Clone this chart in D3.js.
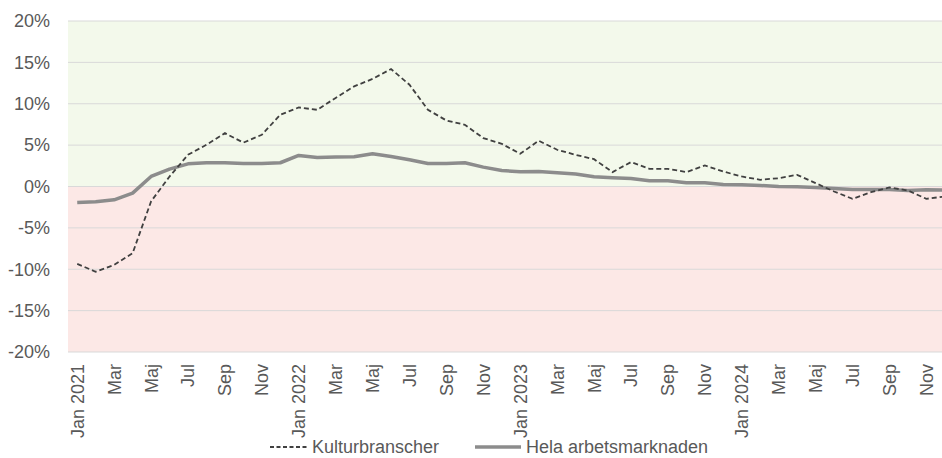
<!DOCTYPE html>
<html lang="sv">
<head>
  <meta charset="UTF-8">
  <title>Kulturbranscher vs hela arbetsmarknaden</title>
  <script src="https://d3js.org/d3.v7.min.js"></script>
  <style>
    body { margin: 0; background: white; }
    text {
      fill: #595959;
      font-size: 18px;
      font-family: 'Liberation Sans', 'DejaVu Sans', sans-serif;
    }
  </style>
</head>
<body>
  <svg width="942" height="458"></svg>

  <script>
    // The data
    const monthNames = ["Jan", "Feb", "Mar", "Apr", "Maj", "Jun", "Jul", "Aug", "Sep", "Okt", "Nov", "Dec"];
    const years = [2021, 2022, 2023, 2024];

    const kultur = [
      -9.35, -10.3, -9.47, -8.06, -1.8, 1.2, 3.83, 5.04, 6.45, 5.3, 6.25, 8.67,
      9.55, 9.27, 10.7, 12.1, 13.0, 14.2, 12.3, 9.27, 7.98, 7.46, 5.85, 5.16,
      3.95, 5.53, 4.44, 3.83, 3.3, 1.74, 2.95, 2.14, 2.14, 1.74, 2.54, 1.81,
      1.21, 0.81, 1.0, 1.41, 0.41, -0.6, -1.49, -0.68, -0.12, -0.48, -1.49, -1.2
    ];
    const hela = [
      -1.93, -1.85, -1.61, -0.8, 1.21, 2.1, 2.74, 2.87, 2.87, 2.78, 2.78, 2.87,
      3.75, 3.51, 3.55, 3.6, 3.95, 3.63, 3.23, 2.78, 2.78, 2.87, 2.34, 1.94,
      1.78, 1.81, 1.66, 1.5, 1.17, 1.05, 0.97, 0.69, 0.69, 0.45, 0.45, 0.24,
      0.2, 0.12, 0.0, -0.04, -0.12, -0.24, -0.36, -0.36, -0.36, -0.48, -0.4, -0.44
    ];
    const yTicks = [-20, -15, -10, -5, 0, 5, 10, 15, 20];

    const months = [];
    years.forEach(y => monthNames.forEach((m, i) => months.push({ key: y + "-" + i, m: i, y: y })));

    const svg = d3.select("svg");
    const margin = { top: 21, left: 68 };
    const width = 886;   // plot runs slightly past the window edge
    const height = 331;
    const g = svg.append("g").attr("transform", "translate(" + margin.left + "," + margin.top + ")");

    // Scales
    const x = d3.scaleBand()
      .domain(months.map(d => d.key))
      .range([0, width]);

    const y = d3.scaleLinear()
      .domain([-20, 20])
      .range([height, 0]);

    const cx = k => x(k) + x.bandwidth() / 2;

    // Background zones
    g.append("rect")
      .attr("x", 0).attr("y", y(20))
      .attr("width", width).attr("height", y(0) - y(20))
      .attr("fill", "#f3f9eb");
    g.append("rect")
      .attr("x", 0).attr("y", y(0))
      .attr("width", width).attr("height", y(-20) - y(0))
      .attr("fill", "#fce8e6");

    // Gridlines
    g.selectAll(".grid")
      .data(yTicks)
      .enter().append("line")
      .attr("x1", 0).attr("x2", width)
      .attr("y1", d => y(d)).attr("y2", d => y(d))
      .attr("stroke", "#d9d9d9")
      .attr("stroke-width", 1);

    // Y-axis labels
    g.selectAll(".ylab")
      .data(yTicks)
      .enter().append("text")
      .attr("x", -18)
      .attr("y", d => y(d))
      .attr("dy", "0.35em")
      .attr("text-anchor", "end")
      .text(d => d + "%");

    // X-axis labels, every other month
    g.selectAll(".xlab")
      .data(months.filter(d => d.m % 2 === 0))
      .enter().append("text")
      .attr("text-anchor", "end")
      .attr("transform", d => "translate(" + (cx(d.key) + 6.5) + "," + (height + 12) + ") rotate(-90)")
      .text(d => d.m === 0 ? monthNames[d.m] + " " + d.y : monthNames[d.m]);

    // Lines
    const line = d3.line()
      .x((d, i) => cx(months[i].key))
      .y(d => y(d));

    g.append("path")
      .datum(hela)
      .attr("fill", "none")
      .attr("stroke", "#8c8c8c")
      .attr("stroke-width", 3.5)
      .attr("stroke-linejoin", "round")
      .attr("d", line);

    g.append("path")
      .datum(kultur)
      .attr("fill", "none")
      .attr("stroke", "#404040")
      .attr("stroke-width", 1.8)
      .attr("stroke-dasharray", "5,3")
      .attr("d", line);

    // Legend
    const legend = svg.append("g").attr("transform", "translate(0,453)");
    legend.append("line")
      .attr("x1", 270).attr("x2", 308).attr("y1", -6).attr("y2", -6)
      .attr("stroke", "#404040").attr("stroke-width", 1.8).attr("stroke-dasharray", "4,2.5");
    legend.append("text").attr("x", 312).attr("y", 0).text("Kulturbranscher");
    legend.append("line")
      .attr("x1", 475).attr("x2", 521).attr("y1", -6).attr("y2", -6)
      .attr("stroke", "#8c8c8c").attr("stroke-width", 3.5);
    legend.append("text").attr("x", 526).attr("y", 0).text("Hela arbetsmarknaden");
  </script>
</body>
</html>
